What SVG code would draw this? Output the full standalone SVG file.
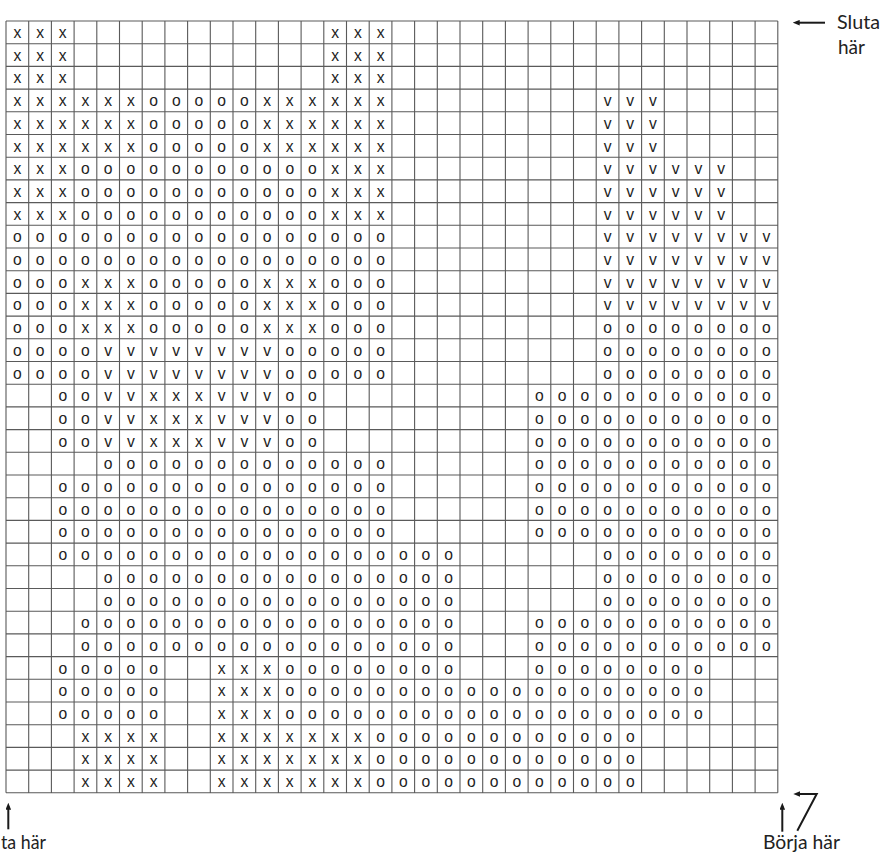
<svg xmlns="http://www.w3.org/2000/svg" width="884" height="854" viewBox="0 0 884 854">
<style>
.grid{fill:none;stroke:#5a5a5a;stroke-width:1.1;vector-effect:non-scaling-stroke}
.sym{font-family:"Liberation Sans",Arial,sans-serif;font-size:6.9px;fill:#222;text-anchor:middle}
.lbl{font-family:"Lato","Liberation Sans",sans-serif;font-size:20px;fill:#222}
.arr{fill:none;stroke:#1a1a1a;stroke-width:2}
</style>
<defs>
<marker id="ah" viewBox="0 0 10 8" refX="5" refY="4" markerWidth="7" markerHeight="5.6" markerUnits="userSpaceOnUse" orient="auto"><path d="M0,0L10,4L0,8z" fill="#1a1a1a"/></marker>
</defs>
<rect width="884" height="854" fill="#fff"/>
<g id="grid" transform="translate(6,21) scale(2.27)">
<path class="grid" d="M0 0V340M10 0V340M20 0V340M30 0V340M40 0V340M50 0V340M60 0V340M70 0V340M80 0V340M90 0V340M100 0V340M110 0V340M120 0V340M130 0V340M140 0V340M150 0V340M160 0V340M170 0V340M180 0V340M190 0V340M200 0V340M210 0V340M220 0V340M230 0V340M240 0V340M250 0V340M260 0V340M270 0V340M280 0V340M290 0V340M300 0V340M310 0V340M320 0V340M330 0V340M340 0V340M0 0H340M0 10H340M0 20H340M0 30H340M0 40H340M0 50H340M0 60H340M0 70H340M0 80H340M0 90H340M0 100H340M0 110H340M0 120H340M0 130H340M0 140H340M0 150H340M0 160H340M0 170H340M0 180H340M0 190H340M0 200H340M0 210H340M0 220H340M0 230H340M0 240H340M0 250H340M0 260H340M0 270H340M0 280H340M0 290H340M0 300H340M0 310H340M0 320H340M0 330H340M0 340H340"/>
</g>
<g id="symbols" class="sym" transform="translate(17.35,38) scale(2.27)">
<text x="0 10 20 140 150 160" y="0">xxxxxx</text>
<text x="0 10 20 140 150 160" y="10">xxxxxx</text>
<text x="0 10 20 140 150 160" y="20">xxxxxx</text>
<text x="0 10 20 30 40 50 60 70 80 90 100 110 120 130 140 150 160 260 270 280" y="30">xxxxxxoooooxxxxxxvvv</text>
<text x="0 10 20 30 40 50 60 70 80 90 100 110 120 130 140 150 160 260 270 280" y="40">xxxxxxoooooxxxxxxvvv</text>
<text x="0 10 20 30 40 50 60 70 80 90 100 110 120 130 140 150 160 260 270 280" y="50">xxxxxxoooooxxxxxxvvv</text>
<text x="0 10 20 30 40 50 60 70 80 90 100 110 120 130 140 150 160 260 270 280 290 300 310" y="60">xxxoooooooooooxxxvvvvvv</text>
<text x="0 10 20 30 40 50 60 70 80 90 100 110 120 130 140 150 160 260 270 280 290 300 310" y="70">xxxoooooooooooxxxvvvvvv</text>
<text x="0 10 20 30 40 50 60 70 80 90 100 110 120 130 140 150 160 260 270 280 290 300 310" y="80">xxxoooooooooooxxxvvvvvv</text>
<text x="0 10 20 30 40 50 60 70 80 90 100 110 120 130 140 150 160 260 270 280 290 300 310 320 330" y="90">ooooooooooooooooovvvvvvvv</text>
<text x="0 10 20 30 40 50 60 70 80 90 100 110 120 130 140 150 160 260 270 280 290 300 310 320 330" y="100">ooooooooooooooooovvvvvvvv</text>
<text x="0 10 20 30 40 50 60 70 80 90 100 110 120 130 140 150 160 260 270 280 290 300 310 320 330" y="110">oooxxxoooooxxxooovvvvvvvv</text>
<text x="0 10 20 30 40 50 60 70 80 90 100 110 120 130 140 150 160 260 270 280 290 300 310 320 330" y="120">oooxxxoooooxxxooovvvvvvvv</text>
<text x="0 10 20 30 40 50 60 70 80 90 100 110 120 130 140 150 160 260 270 280 290 300 310 320 330" y="130">oooxxxoooooxxxooooooooooo</text>
<text x="0 10 20 30 40 50 60 70 80 90 100 110 120 130 140 150 160 260 270 280 290 300 310 320 330" y="140">oooovvvvvvvvooooooooooooo</text>
<text x="0 10 20 30 40 50 60 70 80 90 100 110 120 130 140 150 160 260 270 280 290 300 310 320 330" y="150">oooovvvvvvvvooooooooooooo</text>
<text x="20 30 40 50 60 70 80 90 100 110 120 130 230 240 250 260 270 280 290 300 310 320 330" y="160">oovvxxxvvvooooooooooooo</text>
<text x="20 30 40 50 60 70 80 90 100 110 120 130 230 240 250 260 270 280 290 300 310 320 330" y="170">oovvxxxvvvooooooooooooo</text>
<text x="20 30 40 50 60 70 80 90 100 110 120 130 230 240 250 260 270 280 290 300 310 320 330" y="180">oovvxxxvvvooooooooooooo</text>
<text x="40 50 60 70 80 90 100 110 120 130 140 150 160 230 240 250 260 270 280 290 300 310 320 330" y="190">oooooooooooooooooooooooo</text>
<text x="20 30 40 50 60 70 80 90 100 110 120 130 140 150 160 230 240 250 260 270 280 290 300 310 320 330" y="200">oooooooooooooooooooooooooo</text>
<text x="20 30 40 50 60 70 80 90 100 110 120 130 140 150 160 230 240 250 260 270 280 290 300 310 320 330" y="210">oooooooooooooooooooooooooo</text>
<text x="20 30 40 50 60 70 80 90 100 110 120 130 140 150 160 230 240 250 260 270 280 290 300 310 320 330" y="220">oooooooooooooooooooooooooo</text>
<text x="20 30 40 50 60 70 80 90 100 110 120 130 140 150 160 170 180 190 260 270 280 290 300 310 320 330" y="230">oooooooooooooooooooooooooo</text>
<text x="40 50 60 70 80 90 100 110 120 130 140 150 160 170 180 190 260 270 280 290 300 310 320 330" y="240">oooooooooooooooooooooooo</text>
<text x="40 50 60 70 80 90 100 110 120 130 140 150 160 170 180 190 260 270 280 290 300 310 320 330" y="250">oooooooooooooooooooooooo</text>
<text x="30 40 50 60 70 80 90 100 110 120 130 140 150 160 170 180 190 230 240 250 260 270 280 290 300 310 320 330" y="260">oooooooooooooooooooooooooooo</text>
<text x="30 40 50 60 70 80 90 100 110 120 130 140 150 160 170 180 190 230 240 250 260 270 280 290 300 310 320 330" y="270">oooooooooooooooooooooooooooo</text>
<text x="20 30 40 50 60 90 100 110 120 130 140 150 160 170 180 190 230 240 250 260 270 280 290 300" y="280">oooooxxxoooooooooooooooo</text>
<text x="20 30 40 50 60 90 100 110 120 130 140 150 160 170 180 190 200 210 220 230 240 250 260 270 280 290 300" y="290">oooooxxxooooooooooooooooooo</text>
<text x="20 30 40 50 60 90 100 110 120 130 140 150 160 170 180 190 200 210 220 230 240 250 260 270 280 290 300" y="300">oooooxxxooooooooooooooooooo</text>
<text x="30 40 50 60 90 100 110 120 130 140 150 160 170 180 190 200 210 220 230 240 250 260 270" y="310">xxxxxxxxxxxoooooooooooo</text>
<text x="30 40 50 60 90 100 110 120 130 140 150 160 170 180 190 200 210 220 230 240 250 260 270" y="320">xxxxxxxxxxxoooooooooooo</text>
<text x="30 40 50 60 90 100 110 120 130 140 150 160 170 180 190 200 210 220 230 240 250 260 270" y="330">xxxxxxxxxxxoooooooooooo</text>
</g>
<g id="connectors">
<line class="arr" x1="825" y1="22.7" x2="796.2" y2="22.7" marker-end="url(#ah)"/>
<line class="arr" x1="8.3" y1="829.3" x2="8.3" y2="806.2" marker-end="url(#ah)"/>
<line class="arr" x1="782.3" y1="831.7" x2="782.3" y2="806.2" marker-end="url(#ah)"/>
<polyline class="arr" points="797.3,830.7 816.7,794 796.8,794" marker-end="url(#ah)"/>
</g>
<g id="labels" class="lbl">
<text x="837" y="28.5" textLength="43" lengthAdjust="spacingAndGlyphs">Sluta</text>
<text x="838" y="53.5" textLength="27" lengthAdjust="spacingAndGlyphs">här</text>
<text x="1" y="849" textLength="45" lengthAdjust="spacingAndGlyphs">ta här</text>
<text x="763" y="849" textLength="77" lengthAdjust="spacingAndGlyphs">Börja här</text>
</g>
</svg>
